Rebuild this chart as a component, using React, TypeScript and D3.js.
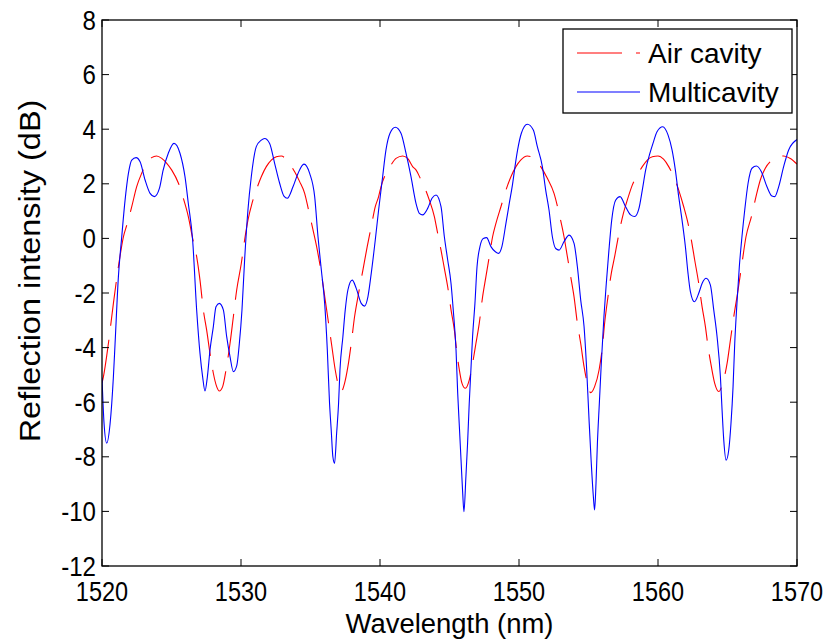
import React from "react";
import * as d3 from "d3";

const airWl = [1520.0,1520.1,1520.46,1520.82,1521.18,1521.54,1521.82,1522.14,1522.49,1522.85,1523.21,1523.57,1523.93,1524.3,1524.66,1525.02,1525.5,1525.85,1526.21,1526.52,1526.81,1527.05,1527.29,1527.53,1527.77,1528.01,1528.25,1528.44,1528.68,1528.92,1529.21,1529.45,1529.69,1530.02,1530.26,1530.5,1530.79,1531.1,1531.46,1531.82,1532.18,1532.54,1532.9,1533.38,1533.86,1534.22,1534.58,1534.86,1535.18,1535.49,1535.78,1536.06,1536.3,1536.54,1536.78,1536.97,1537.21,1537.45,1537.69,1537.93,1538.17,1538.46,1538.77,1539.08,1539.37,1539.66,1539.9,1540.07,1540.43,1540.79,1541.15,1541.63,1541.99,1542.35,1542.6,1542.9,1543.19,1543.55,1543.91,1544.15,1544.39,1544.63,1544.87,1545.11,1545.35,1545.51,1545.71,1545.9,1546.14,1546.42,1546.66,1546.9,1547.14,1547.38,1547.62,1547.86,1548.1,1548.34,1548.7,1549.06,1549.42,1549.78,1550.12,1550.6,1551.08,1551.56,1552.04,1552.52,1552.88,1553.24,1553.48,1553.72,1553.96,1554.2,1554.44,1554.68,1554.92,1555.16,1555.44,1555.76,1556.0,1556.16,1556.4,1556.64,1556.88,1557.19,1557.51,1557.79,1558.15,1558.51,1558.87,1559.23,1559.59,1560.0,1560.4,1560.77,1561.13,1561.49,1561.85,1562.16,1562.4,1562.64,1562.93,1563.17,1563.41,1563.6,1563.84,1564.08,1564.37,1564.65,1564.97,1565.21,1565.45,1565.76,1566.04,1566.33,1566.72,1567.05,1567.36,1567.72,1568.2,1568.63,1569.04,1569.52,1570.0];
const airDb = [-5.3,-5.07,-3.85,-2.38,-1.04,0.06,0.55,1.16,1.89,2.38,2.75,2.96,3.02,2.93,2.75,2.5,2.02,1.47,0.8,0.0,-0.67,-1.53,-2.62,-3.36,-4.21,-4.94,-5.43,-5.59,-5.43,-4.82,-3.85,-2.87,-1.89,-0.92,-0.06,0.67,1.28,1.77,2.26,2.63,2.87,2.99,3.02,2.81,2.44,2.08,1.65,1.04,0.31,-0.43,-1.28,-2.26,-3.11,-3.97,-4.82,-5.31,-5.61,-5.31,-4.7,-3.85,-2.87,-2.01,-1.16,-0.3,0.43,1.16,1.53,1.89,2.38,2.69,2.93,3.02,2.93,2.63,2.5,2.2,1.89,1.4,0.8,0.18,-0.43,-1.1,-1.77,-2.62,-3.36,-4.09,-4.82,-5.31,-5.49,-5.19,-4.58,-3.85,-3.11,-2.14,-1.4,-0.67,0.06,0.55,1.16,1.77,2.26,2.63,2.87,3.02,2.93,2.63,2.2,1.65,0.92,0.06,-0.67,-1.4,-2.14,-3.11,-3.85,-4.7,-5.31,-5.65,-5.43,-4.82,-3.97,-3.11,-2.14,-1.28,-0.67,0.18,0.92,1.4,1.95,2.32,2.63,2.87,2.99,3.02,2.9,2.63,2.26,1.77,1.16,0.55,-0.06,-0.79,-1.65,-2.5,-3.23,-3.97,-4.7,-5.31,-5.61,-5.31,-4.58,-3.72,-2.87,-1.89,-0.92,0.06,0.8,1.53,2.14,2.57,2.87,2.99,3.02,2.93,2.72];

const multiWl = [1520.0,1520.15,1520.34,1520.58,1520.82,1520.94,1521.18,1521.42,1521.66,1521.9,1522.14,1522.45,1522.74,1523.1,1523.46,1523.77,1524.13,1524.4,1524.77,1525.18,1525.61,1525.97,1526.21,1526.52,1526.81,1527.05,1527.24,1527.41,1527.58,1527.77,1528.01,1528.2,1528.44,1528.73,1528.97,1529.21,1529.45,1529.7,1529.88,1530.07,1530.26,1530.5,1530.74,1531.1,1531.46,1531.7,1532.06,1532.42,1532.78,1533.09,1533.33,1533.74,1534.1,1534.53,1534.94,1535.3,1535.54,1535.78,1536.02,1536.21,1536.37,1536.49,1536.61,1536.73,1536.88,1537.02,1537.12,1537.33,1537.5,1537.69,1538.0,1538.29,1538.65,1538.89,1539.13,1539.37,1539.66,1539.9,1540.19,1540.43,1540.72,1541.1,1541.51,1541.87,1542.23,1542.59,1542.83,1543.07,1543.43,1543.74,1544.03,1544.39,1544.63,1544.87,1545.11,1545.27,1545.47,1545.59,1545.71,1545.83,1545.95,1546.04,1546.18,1546.3,1546.42,1546.54,1546.66,1546.83,1546.98,1547.19,1547.43,1547.67,1547.98,1548.3,1548.53,1548.77,1549.06,1549.3,1549.54,1549.78,1549.9,1550.17,1550.6,1551.03,1551.32,1551.68,1551.92,1552.16,1552.4,1552.64,1552.88,1553.24,1553.6,1553.96,1554.2,1554.44,1554.68,1554.87,1555.04,1555.2,1555.35,1555.44,1555.54,1555.64,1555.78,1555.92,1556.11,1556.28,1556.47,1556.67,1556.95,1557.27,1557.67,1558.03,1558.32,1558.63,1558.87,1559.11,1559.42,1559.65,1559.93,1560.34,1560.72,1561.01,1561.25,1561.49,1561.73,1561.97,1562.16,1562.33,1562.62,1562.93,1563.17,1563.46,1563.77,1564.01,1564.25,1564.49,1564.61,1564.73,1564.9,1565.09,1565.25,1565.4,1565.52,1565.68,1565.85,1566.04,1566.24,1566.48,1566.76,1567.08,1567.44,1567.84,1568.2,1568.4,1568.68,1569.04,1569.4,1570.0];
const multiDb = [-5.1,-6.8,-7.5,-6.8,-5.07,-3.85,-1.4,0.06,1.4,2.38,2.87,2.96,2.81,2.14,1.65,1.53,1.83,2.5,3.12,3.48,3.12,2.26,1.28,-0.06,-2.62,-4.21,-5.07,-5.59,-5.07,-4.09,-3.23,-2.5,-2.38,-2.62,-3.6,-4.33,-4.88,-4.65,-3.85,-2.62,-0.79,1.04,2.26,3.36,3.6,3.66,3.48,2.75,2.02,1.55,1.47,1.89,2.38,2.72,2.38,1.53,0.06,-1.16,-2.38,-4.09,-6.04,-7.02,-8.0,-8.24,-7.14,-6.04,-4.82,-3.6,-2.62,-1.89,-1.53,-1.83,-2.38,-2.48,-2.14,-1.28,-0.06,1.04,2.26,3.24,3.85,4.07,3.85,3.12,2.26,1.28,0.92,0.86,1.1,1.47,1.59,1.16,0.06,-0.79,-1.65,-2.62,-4.09,-5.67,-6.9,-8.12,-9.34,-10.01,-8.73,-7.51,-6.04,-4.82,-3.6,-2.38,-1.04,-0.3,0.0,0.03,-0.3,-0.49,-0.55,-0.3,0.55,1.28,2.0,2.87,3.24,3.85,4.18,3.97,3.36,2.63,1.77,1.04,0.06,-0.37,-0.43,-0.12,0.12,-0.18,-1.04,-2.26,-3.23,-4.82,-6.65,-8.24,-9.46,-9.95,-8.97,-7.51,-6.04,-4.58,-2.87,-1.65,-0.43,0.67,1.4,1.53,1.16,0.86,0.8,1.1,1.77,2.5,3.12,3.5,3.91,4.09,3.79,3.24,2.5,1.53,0.67,-0.3,-1.28,-1.95,-2.32,-2.01,-1.65,-1.46,-1.71,-2.62,-3.6,-5.07,-6.29,-7.38,-8.12,-7.75,-6.78,-5.43,-3.85,-2.38,-1.04,0.06,1.04,2.02,2.57,2.65,2.44,1.89,1.55,1.53,1.89,2.63,3.24,3.62];

const xTicks = [1520, 1530, 1540, 1550, 1560, 1570];
const yTicks = [-12, -10, -8, -6, -4, -2, 0, 2, 4, 6, 8];
const seriesNames = ["Air cavity", "Multicavity"];
const seriesColors = ["#ff0000", "#0000ff"];
const xLabel = "Wavelength (nm)";
const yLabel = "Reflection intensity (dB)";

const L = 102, R = 797, T = 20, B = 566;
const FONT = "'Liberation Sans', Arial, Helvetica, sans-serif";

export default function App() {
  const x = d3.scaleLinear().domain([1520, 1570]).range([L, R]);
  const y = d3.scaleLinear().domain([-12, 8]).range([B, T]);
  const line = d3.line<[number, number]>().x(d => x(d[0])).y(d => y(d[1])).curve(d3.curveMonotoneX);
  const airPath = line(airWl.map((w, i) => [w, airDb[i]]) as [number, number][]) || "";
  const multiPath = line(multiWl.map((w, i) => [w, multiDb[i]]) as [number, number][]) || "";
  const tickLen = 7;
  const dash = "44 14";

  return (
    <svg width={832} height={642} style={{ position: "absolute", left: 0, top: 0, background: "#fff" }}>
      <rect x={0} y={0} width={832} height={642} fill="#fff" />
      <defs>
        <clipPath id="plotClip">
          <rect x={L} y={T} width={R - L} height={B - T} />
        </clipPath>
      </defs>
      <g clipPath="url(#plotClip)">
        <path d={airPath} fill="none" stroke={seriesColors[0]} strokeWidth={1.1} strokeDasharray={dash} />
        <path d={multiPath} fill="none" stroke={seriesColors[1]} strokeWidth={1.1} />
      </g>
      {xTicks.map(t => (
        <g key={"xt" + t}>
          <line x1={x(t)} x2={x(t)} y1={B} y2={B - tickLen} stroke="#000" strokeWidth={1} />
          <line x1={x(t)} x2={x(t)} y1={T} y2={T + tickLen} stroke="#000" strokeWidth={1} />
          <text transform={`translate(${x(t)},${B + 35}) scale(0.84,1)`} textAnchor="middle" fontFamily={FONT} fontSize={28} fill="#000">{t}</text>
        </g>
      ))}
      {yTicks.map(t => (
        <g key={"yt" + t}>
          <line x1={L} x2={L + tickLen} y1={y(t)} y2={y(t)} stroke="#000" strokeWidth={1} />
          <line x1={R} x2={R - tickLen} y1={y(t)} y2={y(t)} stroke="#000" strokeWidth={1} />
          <text transform={`translate(${L - 6},${y(t) + 9.5}) scale(0.86,1)`} textAnchor="end" fontFamily={FONT} fontSize={28} fill="#000">{t}</text>
        </g>
      ))}
      <rect x={L} y={T} width={R - L} height={B - T} fill="none" stroke="#000" strokeWidth={1.3} />
      <text transform={`translate(${(L + R) / 2},633) scale(0.98,1)`} textAnchor="middle" fontFamily={FONT} fontSize={28} fill="#000">{xLabel}</text>
      <text transform={`translate(40,271) rotate(-90) scale(1.12,1)`} textAnchor="middle" fontFamily={FONT} fontSize={29} fill="#000">{yLabel}</text>
      <rect x={563} y={29} width={229} height={84} fill="#fff" stroke="#000" strokeWidth={1.3} />
      <line x1={577} x2={640} y1={53} y2={53} stroke={seriesColors[0]} strokeWidth={1.1} strokeDasharray="45 14" />
      <line x1={577} x2={640} y1={92} y2={92} stroke={seriesColors[1]} strokeWidth={1.1} />
      <text x={648} y={63} fontFamily={FONT} fontSize={28} fill="#000">{seriesNames[0]}</text>
      <text x={648} y={102} fontFamily={FONT} fontSize={28} fill="#000">{seriesNames[1]}</text>
    </svg>
  );
}
